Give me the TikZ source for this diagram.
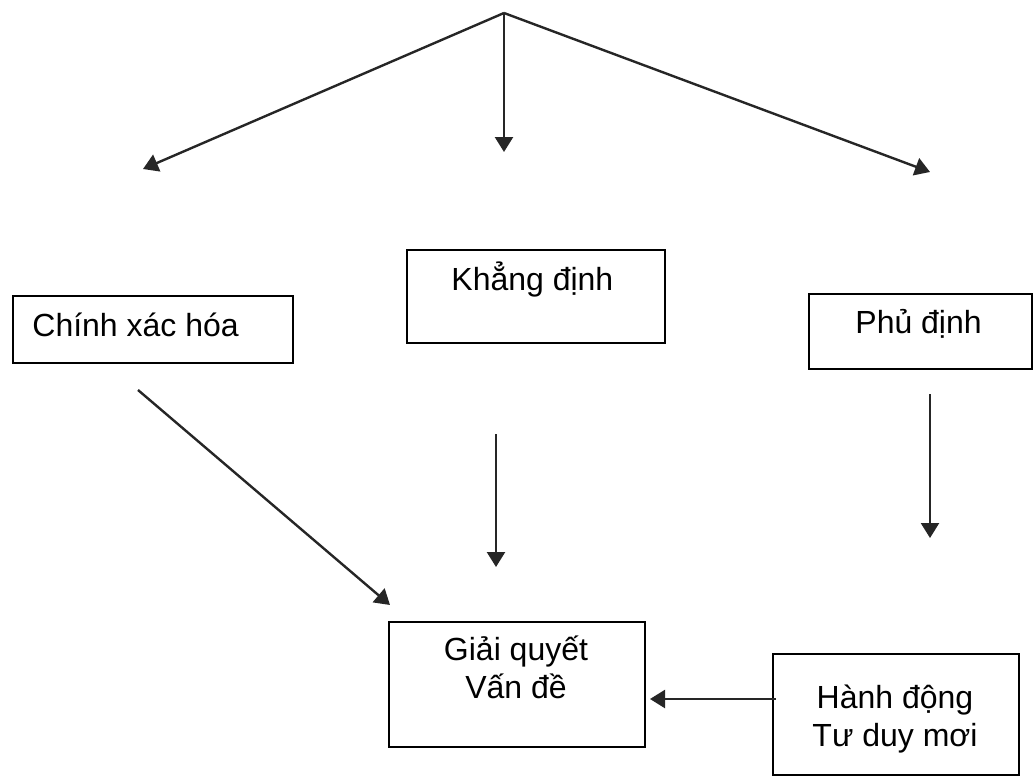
\documentclass[tikz,border=0pt]{standalone}
\usepackage{fontspec}
\setmainfont{Liberation Sans}
\usetikzlibrary{arrows.meta}
\begin{document}
\begin{tikzpicture}[x=0.5pt,y=-0.5pt,
  box/.style={draw=black, line width=1.1pt, inner sep=0pt, anchor=north west},
  lbl/.style={font=\fontsize{16}{19}\selectfont, inner sep=0pt},
  arr/.style={draw=black!85, line width=1.2pt, -{Triangle[length=7.5pt,width=9pt]}}]
\useasboundingbox (0,0) rectangle (1033,776);
% boxes
\node[box, minimum width=140pt, minimum height=33.5pt] (chinh) at (12,295) {};
\node[box, minimum width=129pt, minimum height=46.5pt] (khang) at (406,249) {};
\node[box, minimum width=111.5pt, minimum height=37.5pt] (phu) at (808,293) {};
\node[box, minimum width=128pt, minimum height=62.5pt] (giai) at (388,621) {};
\node[box, minimum width=123pt, minimum height=60.5pt] (hanh) at (772,653) {};
% texts
\node[lbl, anchor=base west] (chinhT) at (32,336) {Chính xác hóa};
\node[lbl, anchor=base west] (khangT) at (451,290) {Khẳng định};
\node[lbl, anchor=base west] (phuT) at (855,333) {Phủ định};
\node[lbl, anchor=base] (giaiT1) at (516,660) {Giải quyết};
\node[lbl, anchor=base] (giaiT2) at (516,698) {Vấn đề};
\node[lbl, anchor=base] (hanhT1) at (895,708) {Hành động};
\node[lbl, anchor=base] (hanhT2) at (895,746) {Tư duy mơi};
% connector ends
\coordinate (top) at (504,13);
\coordinate (tL) at (143,169);
\coordinate (tM) at (504,152);
\coordinate (tR) at (930,172);
\coordinate (cS) at (138,390);
\coordinate (cE) at (390,605);
\coordinate (kS) at (496,434);
\coordinate (kE) at (496,567);
\coordinate (pS) at (930,394);
\coordinate (pE) at (930,538);
\coordinate (hS) at (776,699);
\coordinate (hE) at (650,699);
% connectors
\draw[arr] (top) -- (tL);
\draw[arr] (top) -- (tM);
\draw[arr] (top) -- (tR);
\draw[arr] (cS) -- (cE);
\draw[arr] (kS) -- (kE);
\draw[arr] (pS) -- (pE);
\draw[arr] (hS) -- (hE);
\end{tikzpicture}
\end{document}
